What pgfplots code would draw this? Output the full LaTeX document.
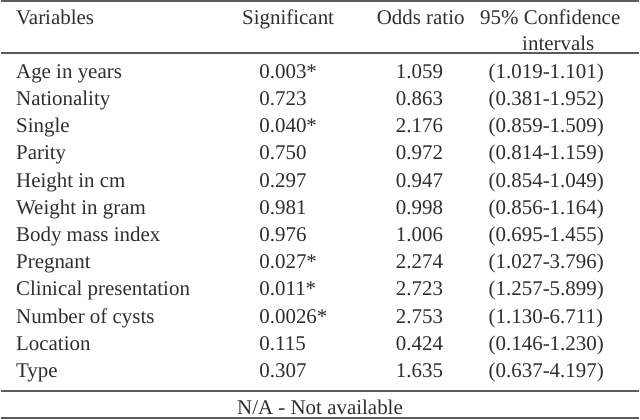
\documentclass[border=0pt]{standalone}
\usepackage{pgfplots}
\pgfplotsset{compat=1.18}
\usepackage{pgfplotstable}
\usepackage{fontspec}
\setmainfont{Liberation Serif}
\definecolor{txt}{HTML}{2e2e2e}
\definecolor{rulec}{HTML}{5a5a5a}
\pgfplotstableread[col sep=comma]{
y,var,p,or,ci
79.5,Age in years,0.003*,1.059,(1.019-1.101)
106.8,Nationality,0.723,0.863,(0.381-1.952)
134.1,Single,0.040*,2.176,(0.859-1.509)
161.4,Parity,0.750,0.972,(0.814-1.159)
188.7,Height in cm,0.297,0.947,(0.854-1.049)
216.0,Weight in gram,0.981,0.998,(0.856-1.164)
243.3,Body mass index,0.976,1.006,(0.695-1.455)
270.6,Pregnant,0.027*,2.274,(1.027-3.796)
297.9,Clinical presentation,0.011*,2.723,(1.257-5.899)
325.2,Number of cysts,0.0026*,2.753,(1.130-6.711)
352.5,Location,0.115,0.424,(0.146-1.230)
379.8,Type,0.307,1.635,(0.637-4.197)
}\tbl
\begin{document}
\begin{tikzpicture}
\begin{axis}[width=640pt,height=422pt,scale only axis,
  xmin=0,xmax=640,ymin=0,ymax=422,y dir=reverse,hide axis,clip=false,
  every node near coord/.style={anchor=base west,inner sep=0pt,
    font=\fontsize{21}{25}\selectfont,text=txt}]
% rules
\addplot[rulec,line width=2pt,mark=none] coordinates {(0,2) (640,2)};
\addplot[rulec,line width=2pt,mark=none] coordinates {(0,54.5) (640,54.5)};
\addplot[rulec,line width=1.6pt,mark=none] coordinates {(0,393) (640,393)};
\addplot[rulec,line width=2pt,mark=none] coordinates {(0,420.5) (640,420.5)};
% body
\addplot[draw=none,mark=none,nodes near coords,point meta=explicit symbolic]
  table[x expr=15,y=y,meta=var]{\tbl};
\addplot[draw=none,mark=none,nodes near coords,point meta=explicit symbolic]
  table[x expr=259,y=y,meta=p]{\tbl};
\addplot[draw=none,mark=none,nodes near coords,point meta=explicit symbolic]
  table[x expr=396,y=y,meta=or]{\tbl};
\addplot[draw=none,mark=none,nodes near coords,point meta=explicit symbolic]
  table[x expr=489,y=y,meta=ci]{\tbl};
% header
\addplot[draw=none,mark=none,nodes near coords,point meta=explicit symbolic]
  coordinates {(15,26) [Variables]};
\addplot[draw=none,mark=none,nodes near coords,point meta=explicit symbolic,
  every node near coord/.append style={anchor=base}]
  coordinates {(288,26) [Significant] (421,26) [Odds ratio] (551,26) [95\% Confidence] (559,51.5) [intervals] (320,417) [N/A - Not available]};
\end{axis}
\end{tikzpicture}
\end{document}
